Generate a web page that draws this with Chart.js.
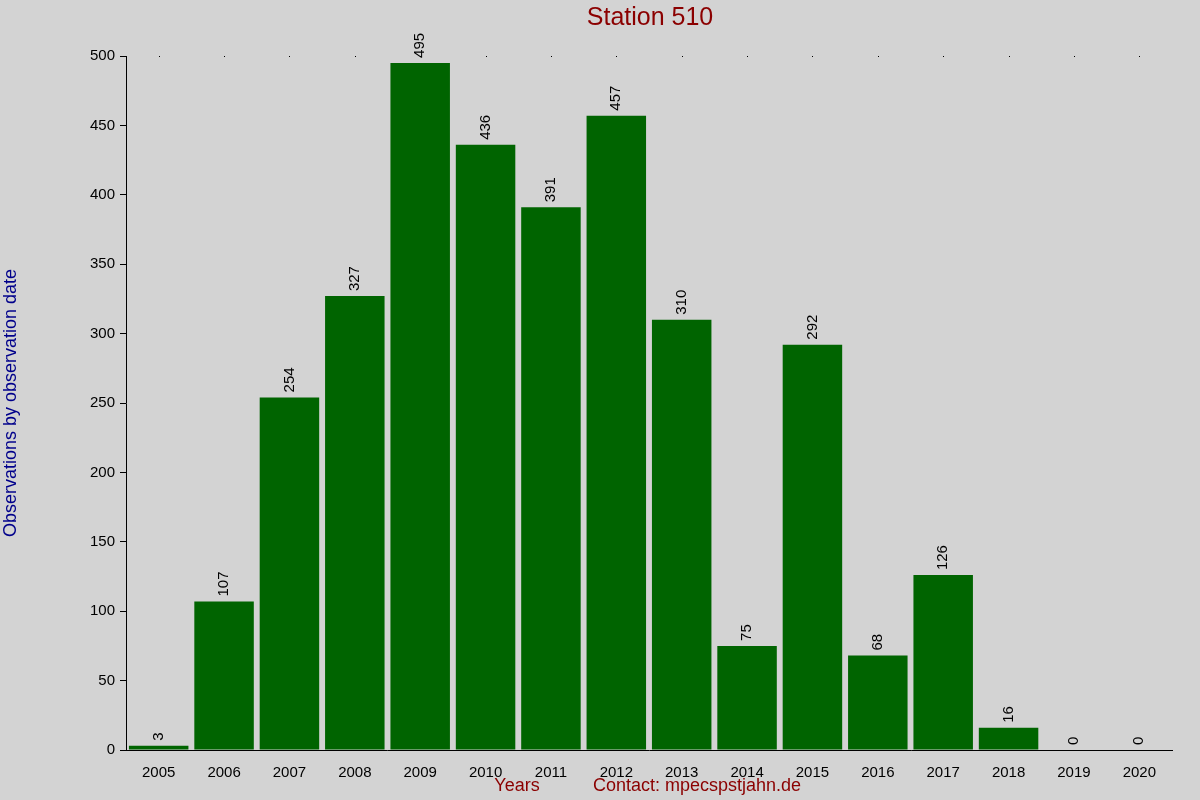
<!DOCTYPE html>
<html><head><meta charset="utf-8">
<script src="https://cdn.jsdelivr.net/npm/chart.js@4/dist/chart.umd.min.js"></script>
<style>html,body{margin:0;background:#d3d3d3}#w{width:1200px;height:800px}</style>
</head><body><div id="w"><canvas id="c"></canvas></div>
<script>
const years=["2005","2006","2007","2008","2009","2010","2011","2012","2013","2014","2015","2016","2017","2018","2019","2020"];
const counts=[3,107,254,327,495,436,391,457,310,75,292,68,126,16,0,0];
const yTicks=[0,50,100,150,200,250,300,350,400,450,500];
const F="'Liberation Sans', Arial, sans-serif";
const deco={id:'deco',afterDatasetsDraw(ch){
 const ctx=ch.ctx,a=ch.chartArea,meta=ch.getDatasetMeta(0);
 ctx.save();ctx.font="15px "+F;ctx.fillStyle="#000";ctx.textAlign="left";ctx.textBaseline="middle";
 meta.data.forEach((b,i)=>{ctx.save();ctx.translate(b.x,b.y-5);ctx.rotate(-Math.PI/2);ctx.fillText(String(counts[i]),0,0);ctx.restore();
  ctx.fillRect(Math.round(b.x),a.top,1,1);});
 ctx.textAlign="center";ctx.fillStyle="#8b0000";ctx.font="25px "+F;ctx.fillText("Station 510",650,18);
 ctx.font="18px "+F;ctx.fillText("Years",517,786);ctx.fillText("Contact: mpecspstjahn.de",697,786);
 ctx.fillStyle="#00008b";ctx.save();ctx.translate(11,403);ctx.rotate(-Math.PI/2);ctx.fillText("Observations by observation date",0,0);ctx.restore();
 ctx.restore();}};
new Chart(document.getElementById('c'),{type:'bar',
 data:{labels:years,datasets:[{data:counts,backgroundColor:'#006400',barPercentage:0.91,categoryPercentage:1}]},
 options:{responsive:true,maintainAspectRatio:false,animation:false,
  layout:{padding:{top:56,right:28,left:0,bottom:0}},
  plugins:{legend:{display:false},tooltip:{enabled:false}},
  scales:{
   x:{afterFit(s){s.height=50},grid:{display:false},border:{color:'#000'},ticks:{color:'#000',font:{family:F,size:15},padding:6}},
   y:{min:0,max:500,afterFit(s){s.width=126},afterBuildTicks(s){s.ticks=yTicks.map(v=>({value:v}))},
      grid:{drawOnChartArea:false,tickLength:6,color:'#000'},border:{color:'#000'},
      ticks:{color:'#000',font:{family:F,size:15},padding:5}}}},
 plugins:[deco]});
</script></body></html>
